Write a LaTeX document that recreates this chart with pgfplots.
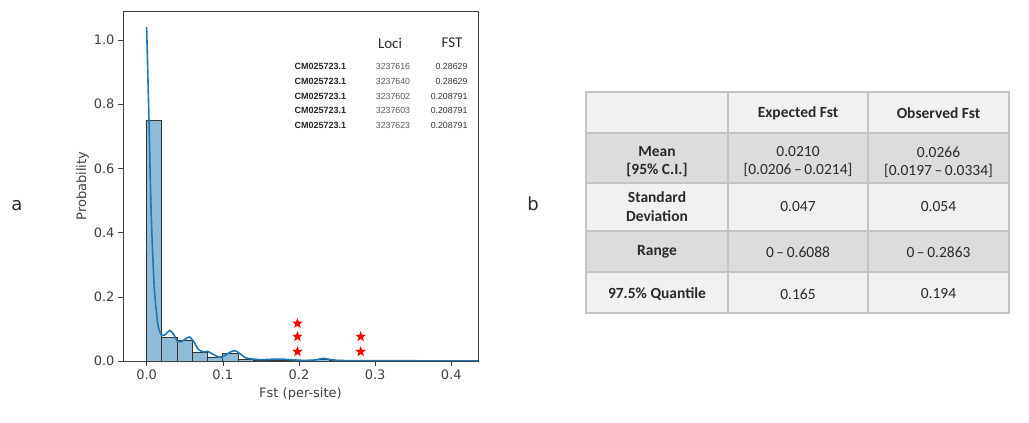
\documentclass[border=0pt]{standalone}
\usepackage{fontspec}
\setmainfont{DejaVu Sans}
\newfontfamily\carlito{Carlito}
\newfontfamily\arialf{Liberation Sans}
\usepackage{pgfplots}
\pgfplotsset{compat=1.18}
\definecolor{histfill}{HTML}{8FBBD9}
\definecolor{kde}{HTML}{1F77B4}
\definecolor{rowlight}{HTML}{F1F1F1}
\definecolor{rowdark}{HTML}{DCDCDC}
\definecolor{gridc}{HTML}{C4C4C4}
\definecolor{txt}{HTML}{2A2A2A}

% filled five-pointed star mark
\pgfdeclareplotmark{fivestar}{%
  \pgfpathmoveto{\pgfpointpolar{90}{\pgfplotmarksize}}%
  \foreach \k in {1,...,9}{%
    \pgfmathsetmacro\ang{90+36*\k}%
    \ifodd\k
      \pgfpathlineto{\pgfpointpolar{\ang}{0.42\pgfplotmarksize}}%
    \else
      \pgfpathlineto{\pgfpointpolar{\ang}{\pgfplotmarksize}}%
    \fi}%
  \pgfpathclose
  \pgfusepathqfill}

\begin{document}
\begin{tikzpicture}[x=1pt,y=1pt]
\path[use as bounding box] (0,0) rectangle (1029,423);

% panel labels
\node[font=\fontsize{18}{20}\selectfont, text=txt] at (17,217) {a};
\node[font=\fontsize{18}{20}\selectfont, text=txt] at (533,219) {b};

\begin{axis}[
    at={(123pt,62pt)}, anchor=south west,
    width=355pt, height=350pt, scale only axis,
    xmin=-0.031, xmax=0.435, ymin=0, ymax=1.09,
    xtick={0,0.1,0.2,0.3,0.4}, ytick={0,0.2,0.4,0.6,0.8,1.0},
    tick pos=left, tick align=outside,
    major tick length=5pt,
    axis line style={draw=black!75},
    every tick/.style={black!75},
    /pgf/number format/assume math mode=true,
    /pgf/number format/.cd, fixed, fixed zerofill, precision=1, /pgfplots/.cd,
    tick label style={font=\fontsize{13}{15}\selectfont, text=black!75},
    xlabel={Fst (per-site)}, ylabel={Probability},
    label style={font=\fontsize{13}{15}\selectfont, text=black!75},
    xlabel style={yshift=-1pt},
    ylabel style={yshift=-2pt},
    clip=true,
]
% histogram (bin width 0.02)
\addplot[ybar interval, fill=histfill, draw=black!80, line width=0.9pt]
coordinates {(0,0.75) (0.02,0.072) (0.04,0.063) (0.06,0.027) (0.08,0.010)
 (0.10,0.024) (0.12,0.004) (0.14,0.002) (0.16,0.003) (0.18,0.002)
 (0.20,0.001) (0.22,0.004) (0.24,0.001) (0.26,0.000) (0.28,0.002) (0.30,0.002)};
% kde
\addplot[kde, line width=1.6pt, smooth, tension=0.4] coordinates {
 (0,1.04) (0.003,0.76) (0.006,0.46) (0.01,0.23) (0.015,0.11) (0.02,0.08)
 (0.025,0.083) (0.03,0.095) (0.035,0.085) (0.04,0.063) (0.045,0.06)
 (0.05,0.067) (0.056,0.075) (0.062,0.06) (0.068,0.036) (0.075,0.028)
 (0.08,0.03) (0.088,0.02) (0.095,0.012) (0.102,0.016) (0.11,0.028)
 (0.116,0.032) (0.122,0.024) (0.13,0.01) (0.14,0.006) (0.15,0.004)
 (0.16,0.005) (0.175,0.006) (0.19,0.004) (0.205,0.002) (0.22,0.003)
 (0.232,0.008) (0.24,0.005) (0.25,0.002) (0.27,0.001) (0.3,0.001) (0.44,0)};
% highlighted loci
\addplot[only marks, mark=fivestar, mark size=5.5pt, red] coordinates {
 (0.198,0.029) (0.198,0.076) (0.198,0.117) (0.281,0.029) (0.281,0.076)};
\end{axis}

% loci table inside plot
\node[font=\carlito\fontsize{15}{17}\selectfont, text=txt] at (390,380) {Loci};
\node[font=\carlito\fontsize{15}{17}\selectfont, text=txt] at (452,380) {FST};
\foreach \yy/\pos/\fst in {357/3237616/0.28629, 342/3237640/0.28629,
    327/3237602/0.208791, 313/3237603/0.208791, 298/3237623/0.208791}{
  \node[anchor=west, font=\arialf\bfseries\fontsize{9}{9}\selectfont, text=black!85] at (291,\yy) {CM025723.1};
  \node[font=\arialf\fontsize{8.8}{9}\selectfont, text=black!65] at (393,\yy) {\pos};
  \node[anchor=east, font=\arialf\fontsize{8.8}{9}\selectfont, text=black!80] at (471,\yy) {\fst};
}

% summary table
\fill[rowlight] (586,290) rectangle (1009,331);
\fill[rowdark]  (586,240) rectangle (1009,290);
\fill[rowlight] (586,192) rectangle (1009,240);
\fill[rowdark]  (586,151) rectangle (1009,192);
\fill[rowlight] (586,110) rectangle (1009,151);
\draw[gridc, line width=1.2pt] (586,110) rectangle (1009,331);
\foreach \yy in {290,240,192,151} \draw[gridc, line width=1.2pt] (586,\yy) -- (1009,\yy);
\foreach \xx in {728,868} \draw[gridc, line width=1.2pt] (\xx,110) -- (\xx,331);

\begin{scope}[every node/.style={font=\carlito\fontsize{15.5}{18}\selectfont, text=txt, align=center}]
\node[font=\carlito\bfseries\fontsize{15.5}{18}\selectfont] at (798,310) {Expected Fst};
\node[font=\carlito\bfseries\fontsize{15.5}{18}\selectfont] at (938.5,310) {Observed Fst};
\node[font=\carlito\bfseries\fontsize{15.5}{18}\selectfont] at (657,261) {Mean\\{[95\% C.I.]}};
\node at (798,261) {0.0210\\{[0.0206\,–\,0.0214]}};
\node at (938.5,261) {0.0266\\{[0.0197\,–\,0.0334]}};
\node[font=\carlito\bfseries\fontsize{15.5}{19}\selectfont] at (657,216) {Standard\\Deviation};
\node at (798,216) {0.047};
\node at (938.5,216) {0.054};
\node[font=\carlito\bfseries\fontsize{15.5}{18}\selectfont] at (657,171) {Range};
\node at (798,171) {0\,–\,0.6088};
\node at (938.5,171) {0\,–\,0.2863};
\node[font=\carlito\bfseries\fontsize{15.5}{18}\selectfont] at (657,129) {97.5\% Quantile};
\node at (798,129) {0.165};
\node at (938.5,129) {0.194};
\end{scope}
\end{tikzpicture}
\end{document}
